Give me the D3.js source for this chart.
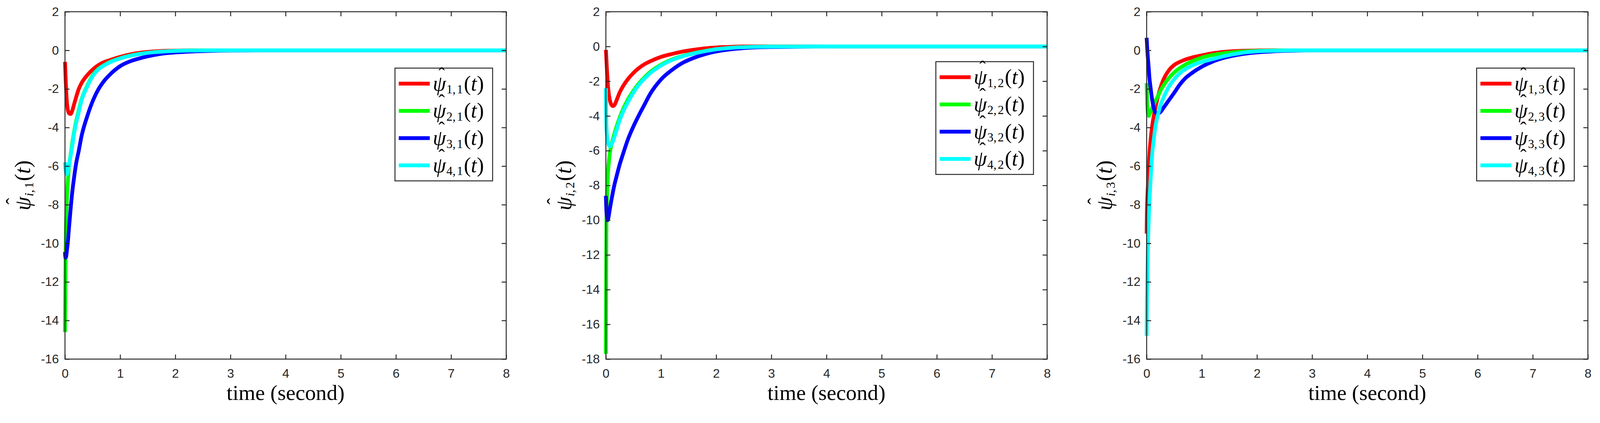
<!DOCTYPE html>
<html>
<head>
<meta charset="utf-8">
<script src="https://cdn.jsdelivr.net/npm/d3@7"></script>
<style>
  html, body { margin: 0; padding: 0; background: #fff; overflow: hidden; }
  svg { display: block; width: 100vw; height: auto; }
</style>
</head>
<body>
<svg id="chart" viewBox="0 0 4228 1083" preserveAspectRatio="xMinYMin meet"></svg>
<script>
// sample times (second), shared by every series
var timeGrid = [0, 0.005, 0.01, 0.02, 0.03, 0.04, 0.05, 0.07, 0.1, 0.13, 0.16, 0.2, 0.25, 0.3,
  0.4, 0.5, 0.6, 0.7, 0.8, 1.0, 1.2, 1.4, 1.6, 1.8, 2.0, 2.3, 2.6, 3, 4, 8];

// column 1 : psi_{i,1}
var psi11 = [-0.6, -0.9, -1.3, -2.0, -2.5, -2.85, -3.05, -3.25, -3.3, -3.15, -2.85, -2.45, -2.0, -1.7,
  -1.3, -1.0, -0.78, -0.62, -0.52, -0.34, -0.2, -0.11, -0.06, -0.03, -0.015, -0.005, 0, 0, 0, 0];
var psi21 = [-14.6, -12.8, -11.0, -9.0, -8.0, -7.4, -6.9, -6.1, -5.45, -4.85, -4.3, -3.7, -3.1, -2.55,
  -1.85, -1.3, -0.97, -0.78, -0.62, -0.41, -0.26, -0.16, -0.1, -0.06, -0.03, -0.01, 0, 0, 0, 0];
var psi31 = [-10.45, -10.65, -10.75, -10.7, -10.5, -10.25, -10.0, -9.3, -8.3, -7.4, -6.7, -5.9, -5.2, -4.45,
  -3.45, -2.65, -2.05, -1.62, -1.3, -0.82, -0.55, -0.38, -0.25, -0.16, -0.11, -0.06, -0.03, -0.01, 0, 0];
var psi41 = [-5.8, -5.95, -6.15, -6.35, -6.42, -6.4, -6.3, -6.0, -5.5, -5.0, -4.4, -3.8, -3.2, -2.6,
  -1.9, -1.35, -1.0, -0.8, -0.64, -0.42, -0.27, -0.17, -0.1, -0.06, -0.03, -0.01, 0, 0, 0, 0];

// column 2 : psi_{i,2}
var psi12 = [-0.2, -0.45, -0.75, -1.35, -1.9, -2.35, -2.65, -3.05, -3.35, -3.43, -3.35, -3.05, -2.65, -2.35,
  -1.88, -1.52, -1.24, -1.02, -0.86, -0.6, -0.43, -0.29, -0.19, -0.11, -0.06, -0.02, 0, 0, 0, 0];
var psi22 = [-17.7, -13.5, -10.3, -8.8, -7.9, -7.2, -6.8, -6.2, -5.65, -5.3, -4.95, -4.55, -4.1, -3.7,
  -3.05, -2.55, -2.12, -1.78, -1.48, -1.05, -0.75, -0.54, -0.38, -0.26, -0.16, -0.07, -0.03, -0.01, 0, 0];
var psi32 = [-8.6, -9.1, -9.5, -9.85, -10.0, -9.95, -9.8, -9.4, -8.85, -8.35, -7.9, -7.4, -6.8, -6.3,
  -5.35, -4.6, -3.95, -3.35, -2.75, -1.9, -1.35, -0.93, -0.65, -0.44, -0.29, -0.15, -0.07, -0.03, 0, 0];
var psi42 = [-2.4, -4.0, -4.6, -5.1, -5.4, -5.55, -5.65, -5.75, -5.65, -5.45, -5.15, -4.75, -4.25, -3.85,
  -3.2, -2.65, -2.2, -1.85, -1.55, -1.1, -0.78, -0.56, -0.4, -0.27, -0.16, -0.07, -0.03, -0.01, 0, 0];

// column 3 : psi_{i,3}
var psi13 = [-9.5, -8.4, -7.9, -7.2, -6.6, -6.0, -5.45, -4.7, -3.93, -3.4, -2.95, -2.45, -1.95, -1.55,
  -1.05, -0.76, -0.6, -0.48, -0.39, -0.26, -0.15, -0.08, -0.04, -0.02, -0.01, 0, 0, 0, 0, 0];
var psi23 = [-1.7, -2.3, -2.75, -3.2, -3.38, -3.4, -3.35, -3.2, -3.0, -2.8, -2.62, -2.4, -2.1, -1.85,
  -1.45, -1.15, -0.92, -0.74, -0.6, -0.38, -0.24, -0.15, -0.09, -0.05, -0.03, -0.01, 0, 0, 0, 0];
var psi33 = [0.65, 0.4, 0.15, -0.3, -0.65, -1.0, -1.4, -1.9, -2.55, -3.0, -3.22, -3.27, -3.2, -3.0,
  -2.6, -2.2, -1.78, -1.45, -1.22, -0.85, -0.58, -0.39, -0.26, -0.17, -0.11, -0.05, -0.02, 0, 0, 0];
var psi43 = [-14.8, -12.9, -12.2, -10.6, -9.4, -8.6, -7.9, -6.8, -5.4, -4.6, -3.93, -3.4, -2.85, -2.5,
  -1.9, -1.5, -1.19, -0.98, -0.82, -0.6, -0.45, -0.3, -0.19, -0.1, -0.05, -0.02, 0, 0, 0, 0];

var seriesColors = ["#ff0000", "#00ff00", "#0000ff", "#00ffff"];
var xTicks = [0, 1, 2, 3, 4, 5, 6, 7, 8];
var yTicks16 = [-16, -14, -12, -10, -8, -6, -4, -2, 0, 2];
var yTicks18 = [-18, -16, -14, -12, -10, -8, -6, -4, -2, 0, 2];

// layout of the three axes
var panels = [
  { col: 1, left: 171.7, yDomain: [-16, 2], yTicks: yTicks16, series: [psi11, psi21, psi31, psi41], legendTop: 180 },
  { col: 2, left: 1601, yDomain: [-18, 2], yTicks: yTicks18, series: [psi12, psi22, psi32, psi42], legendTop: 163 },
  { col: 3, left: 3030, yDomain: [-16, 2], yTicks: yTicks16, series: [psi13, psi23, psi33, psi43], legendTop: 180 }
];
var plotW = 1166, plotTop = 31, plotBottom = 949;
var ink = "#262626";
var mathFont = "'Liberation Serif', 'Times New Roman', serif";
var tickFont = "'Liberation Sans', Arial, sans-serif";

var svg = d3.select("#chart");

// psi-hat with subscript, then (t); one text element, baseline at (x, y)
function mathText(g, x, y, sub, size) {
  var t = g.append("text")
      .attr("font-family", mathFont)
      .attr("font-size", size)
      .attr("fill", "#000");
  // hat, placed on its own above the psi
  t.append("tspan")
      .attr("x", x + size * 0.27)
      .attr("y", y - size * 0.46)
      .attr("font-size", size * 0.9)
      .text("\u02C6");
  t.append("tspan").attr("x", x).attr("y", y).attr("font-style", "italic").text("\u03C8");
  var parts = sub.split(",");
  t.append("tspan").attr("font-size", size * 0.58).attr("dy", size * 0.14).attr("dx", size * 0.02).text(parts[0] + ",");
  t.append("tspan").attr("font-size", size * 0.58).attr("dx", size * 0.06)
      .attr("font-style", parts[0] === "i" ? null : null).text(parts[1]);
  t.append("tspan").attr("dy", -size * 0.14).attr("dx", size * 0.04).text("(");
  t.append("tspan").attr("font-style", "italic").text("t");
  t.append("tspan").text(")");
  if (parts[0] === "i") t.select("tspan:nth-child(3)").attr("font-style", "italic");
  return t;
}

panels.forEach(function(p) {
  var x = d3.scaleLinear().domain([0, 8]).range([p.left, p.left + plotW]);
  var y = d3.scaleLinear().domain(p.yDomain).range([plotBottom, plotTop]);
  var g = svg.append("g").attr("class", "panel");

  // data lines, drawn in order so cyan ends on top
  var line = d3.line()
      .x(function(d, i) { return x(timeGrid[i]); })
      .y(function(d) { return y(d); })
      .curve(d3.curveMonotoneX);

  p.series.forEach(function(vals, k) {
    g.append("path")
        .attr("d", line(vals))
        .attr("fill", "none")
        .attr("stroke", seriesColors[k])
        .attr("stroke-width", 10)
        .attr("stroke-linejoin", "round");
  });

  // axes, ticks pointing inward on all four sides
  var fmt = function(d) { return String(d); };
  var axes = [
    { a: d3.axisBottom(x).tickValues(xTicks).tickFormat(fmt).tickPadding(26), tr: "translate(0," + plotBottom + ")" },
    { a: d3.axisTop(x).tickValues(xTicks).tickFormat(""), tr: "translate(0," + plotTop + ")" },
    { a: d3.axisLeft(y).tickValues(p.yTicks).tickFormat(fmt).tickPadding(16), tr: "translate(" + p.left + ",0)" },
    { a: d3.axisRight(y).tickValues(p.yTicks).tickFormat(""), tr: "translate(" + (p.left + plotW) + ",0)" }
  ];
  axes.forEach(function(ax) {
    var sel = g.append("g")
        .attr("transform", ax.tr)
        .call(ax.a.tickSizeInner(-12).tickSizeOuter(0));
    sel.select(".domain").remove();
    sel.selectAll("line").attr("stroke", ink).attr("stroke-width", 2.5);
    sel.selectAll("text")
        .attr("font-family", tickFont)
        .attr("font-size", 33)
        .attr("fill", ink);
  });

  g.append("rect")
      .attr("x", p.left)
      .attr("y", plotTop)
      .attr("width", plotW)
      .attr("height", plotBottom - plotTop)
      .attr("fill", "none")
      .attr("stroke", ink)
      .attr("stroke-width", 2.5);

  // x label
  g.append("text")
      .attr("x", p.left + plotW / 2)
      .attr("y", 1057)
      .attr("text-anchor", "middle")
      .attr("font-family", mathFont)
      .attr("font-size", 57)
      .attr("fill", "#000")
      .text("time (second)");

  // y label, rotated
  var yl = g.append("g");
  mathText(yl, 0, 0, "i," + p.col, 58);
  var bb = yl.node().getBBox();
  yl.attr("transform", "translate(" + (p.left - 92) + "," + ((plotTop + plotBottom) / 2) + ") rotate(-90) translate(" + (-bb.x - bb.width / 2) + ",0)");

  // legend
  var lw = 258, lh = 298;
  var lx = p.left + plotW - 36 - lw;
  var lg = g.append("g");
  lg.append("rect")
      .attr("x", lx)
      .attr("y", p.legendTop)
      .attr("width", lw)
      .attr("height", lh)
      .attr("fill", "#fff")
      .attr("stroke", ink)
      .attr("stroke-width", 2.5);
  seriesColors.forEach(function(c, k) {
    var ry = p.legendTop + 41 + k * 72;
    lg.append("line")
        .attr("x1", lx + 10)
        .attr("x2", lx + 92)
        .attr("y1", ry)
        .attr("y2", ry)
        .attr("stroke", c)
        .attr("stroke-width", 10);
    mathText(lg, lx + 100, ry + 18, (k + 1) + "," + p.col, 56);
  });
});
</script>
</body>
</html>
